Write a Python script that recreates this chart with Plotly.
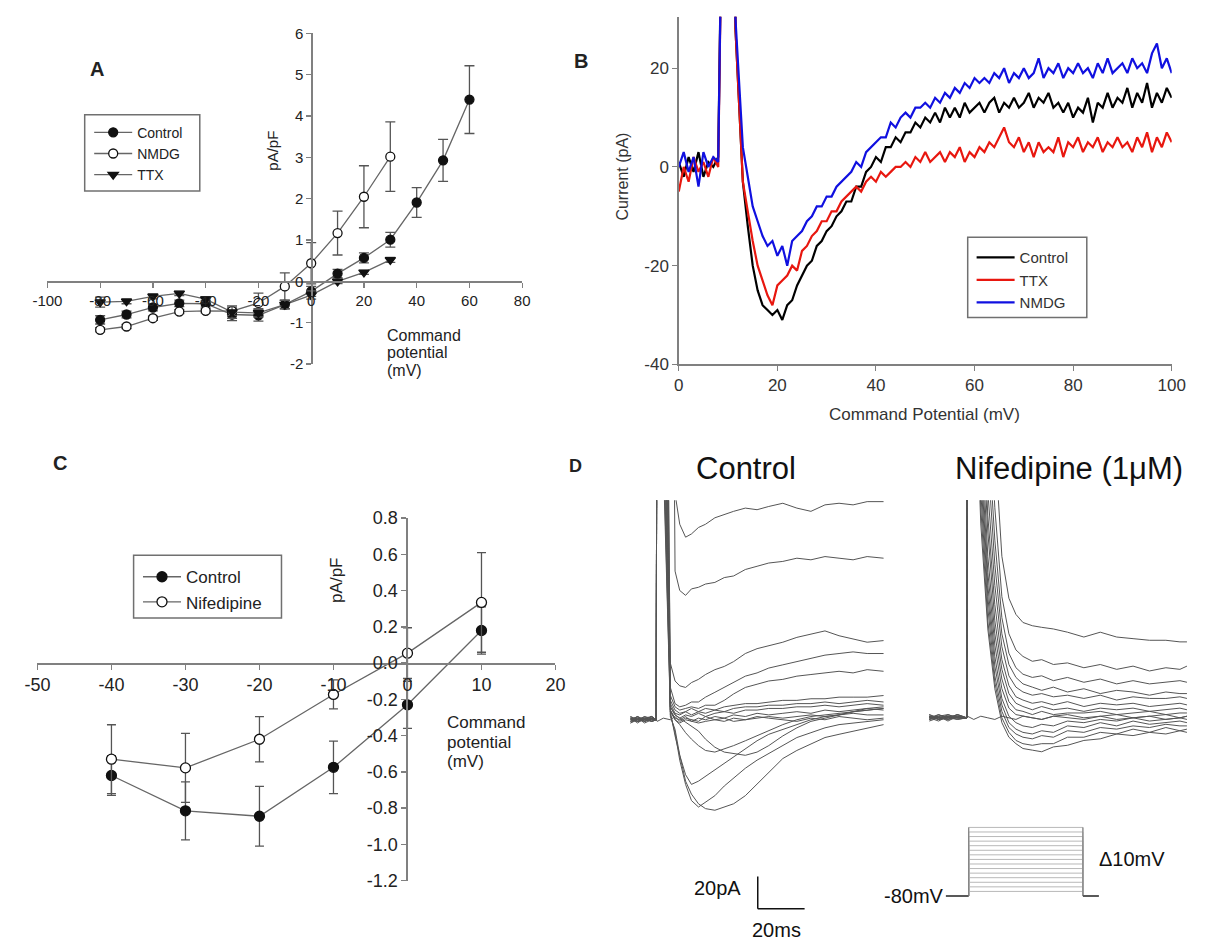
import plotly.graph_objects as go

W, H = 1215, 952
FONT = "Arial, Liberation Sans, sans-serif"


def px(x):
    return x / W


def py(y):
    return 1 - y / H


# ---------------- Panel A : I-V (Control / NMDG / TTX) ----------------
A_V_LONG = [-80, -70, -60, -50, -40, -30, -20, -10, 0, 10, 20, 30, 40, 50, 60]
A_V_SHORT = [-80, -70, -60, -50, -40, -30, -20, -10, 0, 10, 20, 30]
A_CTRL = [-0.93, -0.80, -0.63, -0.53, -0.54, -0.80, -0.82, -0.56, -0.24, 0.19, 0.57, 1.01, 1.91, 2.93, 4.40]
A_CTRL_ERR = [0.10, 0.08, 0.08, 0.08, 0.08, 0.15, 0.14, 0.10, 0.12, 0.10, 0.12, 0.18, 0.36, 0.51, 0.82]
A_NMDG = [-1.17, -1.09, -0.89, -0.73, -0.71, -0.72, -0.52, -0.12, 0.44, 1.17, 2.05, 3.02]
A_NMDG_ERR = [0.05, 0.05, 0.05, 0.05, 0.05, 0.10, 0.24, 0.33, 0.50, 0.53, 0.75, 0.84]
A_TTX = [-0.50, -0.48, -0.36, -0.29, -0.43, -0.74, -0.76, -0.56, -0.33, 0.00, 0.22, 0.52]
A_TTX_ERR = [0.12, 0.06, 0.06, 0.05, 0.06, 0.15, 0.10, 0.10, 0.10, 0.05, 0.05, 0.06]
A_XTICKS = [-100, -80, -60, -40, -20, 0, 20, 40, 60, 80]
A_YTICKS = [-2, -1, 0, 1, 2, 3, 4, 5, 6]

# ---------------- Panel B : current traces ----------------
B_X = [0, 1, 2, 3, 4, 5, 6, 7, 8, 8.2, 10.8, 11.5, 12.3] + list(range(13, 101))
B_CONTROL = [1, -2, 2, -1, 3, -2, 1, 0, 2, 200, 200, 28, 12,
             -3, -12, -20, -25, -28, -29, -30, -29, -31, -28,
             -27, -24, -22, -20, -19, -16, -15, -13, -12, -10,
             -9, -7, -7, -4, -4, -1, 0, 2, 1, 4,
             4, 6, 5, 7, 7, 9, 8, 10, 9, 11,
             9, 12, 10, 12, 10, 13, 11, 12, 13, 11,
             13, 14, 11, 13, 12, 14, 12, 13, 15, 12,
             14, 13, 15, 12, 13, 11, 13, 10, 12, 11,
             14, 9, 13, 12, 15, 12, 14, 13, 16, 12,
             15, 13, 17, 12, 15, 13, 16, 14]
B_TTX = [-5, 0, -3, 2, -1, 1, -2, 2, 0, 200, 200, 28, 10,
         -3, -9, -15, -20, -23, -26, -28, -24, -23, -22,
         -20, -21, -17, -16, -14, -13, -11, -11, -9, -9,
         -7, -6, -5, -4, -5, -3, -2, -3, -1, -2,
         -1, 0, 0, 1, 0, 2, 1, 3, 1, 2,
         3, 1, 3, 2, 4, 1, 3, 2, 4, 3,
         5, 4, 6, 8, 5, 4, 6, 3, 5, 2,
         5, 3, 4, 3, 6, 2, 5, 4, 6, 3,
         5, 4, 6, 3, 5, 4, 6, 4, 5, 3,
         6, 4, 7, 3, 6, 4, 7, 5]
B_NMDG = [0, 3, -1, 2, -4, 3, 0, 2, 1, 200, 200, 30, 16,
          4, -2, -8, -11, -14, -16, -15, -18, -16, -20,
          -15, -14, -13, -11, -10, -8, -8, -6, -6, -4,
          -3, -2, -1, 1, 0, 3, 4, 5, 6, 6,
          9, 8, 10, 11, 10, 12, 12, 13, 12, 14,
          13, 15, 14, 16, 15, 17, 16, 18, 17, 18,
          17, 19, 18, 20, 17, 19, 18, 20, 18, 19,
          22, 18, 20, 19, 21, 18, 20, 19, 21, 19,
          20, 18, 21, 19, 22, 19, 20, 21, 19, 22,
          20, 21, 19, 23, 25, 20, 22, 19]
B_XTICKS = [0, 20, 40, 60, 80, 100]
B_YTICKS = [-40, -20, 0, 20]

# ---------------- Panel C : I-V (Control / Nifedipine) ----------------
C_V = [-40, -30, -20, -10, 0, 10]
C_CTRL = [-0.62, -0.815, -0.845, -0.575, -0.23, 0.18]
C_CTRL_ERR = [0.11, 0.16, 0.165, 0.145, 0.13, 0.13]
C_NIF = [-0.53, -0.578, -0.42, -0.173, 0.055, 0.335]
C_NIF_ERR = [0.19, 0.19, 0.125, 0.08, 0.14, 0.275]
C_XTICKS = [-50, -40, -30, -20, -10, 0, 10, 20]
C_YTICKS = [-1.2, -1.0, -0.8, -0.6, -0.4, -0.2, 0.0, 0.2, 0.4, 0.6, 0.8]

# ---------------- Panel D : raw current families (ms, pA) ----------------
D_CTRL_T = [-11, -8, -5, -2, 0, 0.4, 3.0, 6.0, 8, 10, 12.5, 15, 18, 21, 25, 29, 33, 38,
            43, 48, 54, 60, 66, 72, 78, 84, 90, 97]
D_CTRL_TRACES = [
    [1, -1, 0, 2, 0, -1, 1, 0, 2, -1, 1, 0, -1, 2, 0, 1, -1, 0, 2, 1, 0, -1, 1, 0, 2, 1, 0, 1],
    [0, 2, -1, 1, 0, 500, 500, 500, 140, 121, 113, 115, 119, 121, 125, 127, 129, 131, 130, 132, 134, 131, 129, 133, 134, 133, 135, 135],
    [-1, 1, 0, 2, 0, 500, 500, 500, 92, 80, 77, 81, 82, 84, 85, 88, 89, 93, 95, 97, 98, 100, 99, 101, 100, 99, 101, 100],
    [1, -2, 1, 0, 0, 500, 400, 35, 24, 21, 20, 23, 25, 28, 31, 33, 36, 41, 44, 46, 48, 51, 53, 55, 52, 50, 48, 49],
    [2, 0, -1, 1, 0, 500, 300, 20, 10, 8, 9, 11, 11, 14, 17, 20, 23, 27, 29, 32, 34, 36, 38, 40, 41, 42, 41, 41],
    [-2, 1, 1, -1, 0, 500, 250, 15, 8, 6, 7, 8, 7, 9, 9, 12, 16, 20, 22, 24, 25, 27, 28, 29, 30, 29, 31, 30],
    [0, -1, 2, 1, 0, 500, 220, 12, 6, 4, 5, 7, 5, 7, 6, 8, 9, 10, 10, 11, 12, 12, 13, 13, 14, 14, 14, 15],
    [1, 1, -2, 0, 0, 500, 200, 10, 4, 3, 5, 3, 5, 4, 6, 5, 7, 8, 8, 9, 9, 10, 10, 11, 10, 11, 12, 11],
    [-1, 0, 1, 2, 0, 500, 180, 8, 3, 1, 3, 2, 4, 2, 4, 5, 4, 6, 6, 7, 7, 8, 8, 9, 8, 9, 10, 9],
    [2, -1, 0, -1, 0, 500, 170, 6, 1, 0, 2, -1, 1, 0, 2, 1, 3, 2, 4, 3, 4, 5, 4, 6, 5, 6, 7, 6],
    [0, 2, -1, 0, 0, 500, 160, 5, 0, -2, 0, -1, -2, -1, 0, -1, 1, 0, 1, 2, 1, 2, 3, 2, 3, 4, 3, 3],
    [1, -1, 0, 2, 0, 500, 260, 8, 3, 1, -2, -4, -7, -12, -17, -20, -21, -22, -20, -16, -10, -5, -1, 1, 3, 5, 7, 8],
    [-2, 0, 1, -1, 0, 500, 240, 6, 0, -3, -8, -12, -16, -19, -20, -18, -16, -13, -10, -7, -3, 0, 2, 3, 4, 5, 6, 7],
    [0, 1, -1, 1, 0, 500, 350, 5, -10, -22, -34, -40, -38, -35, -31, -27, -23, -18, -13, -9, -6, -3, 0, 2, 3, 5, 6, 7],
    [1, 0, 2, -1, 0, 500, 450, 3, -8, -25, -40, -50, -54, -51, -47, -41, -36, -30, -25, -21, -16, -11, -8, -5, -3, -2, -1, 0],
    [-1, 2, 0, 1, 0, 500, 600, 2, -6, -22, -38, -46, -52, -55, -56, -54, -52, -47, -40, -33, -24, -19, -15, -11, -9, -7, -5, -3],
]

D_NIF_T = [-16, -12, -8, -4, 0, 0.3, 3, 6, 9, 12, 15, 18, 21, 24, 28, 32, 37, 43, 50, 57,
           64, 71, 78, 85, 91, 94]
D_NIF_TRACES = [
    [1, -1, 2, 0, 0, 1, -1, 1, 0, -1, 1, 0, -1, 1, 0, -1, 1, 0, -1, 1, -1, 0, 1, -1, 0, 1],
    [1, -1, 0, 2, 0, 500, 500, 400, 260, 170, 100, 74, 64, 59, 57, 56, 55, 53, 50, 53, 50, 49, 48, 48, 47, 47],
    [0, 1, -2, 1, 0, 500, 450, 330, 210, 130, 75, 52, 42, 38, 35, 36, 33, 34, 31, 33, 30, 32, 29, 31, 30, 32],
    [-1, 0, 1, 0, 0, 500, 420, 290, 180, 110, 62, 40, 31, 27, 25, 26, 23, 25, 22, 24, 21, 23, 21, 22, 23, 22],
    [2, -1, 0, 1, 0, 500, 400, 260, 160, 95, 52, 33, 25, 21, 19, 17, 19, 16, 18, 15, 17, 16, 14, 16, 15, 15],
    [0, 1, 1, -1, 0, 500, 380, 240, 140, 82, 44, 26, 19, 16, 14, 15, 13, 14, 12, 14, 11, 13, 12, 12, 13, 12],
    [-1, 2, 0, 0, 0, 500, 360, 220, 125, 70, 36, 20, 13, 11, 9, 10, 8, 10, 7, 9, 8, 9, 7, 8, 9, 8],
    [1, 0, -1, 2, 0, 500, 340, 200, 115, 60, 30, 15, 9, 7, 5, 7, 5, 6, 4, 6, 5, 6, 4, 5, 6, 5],
    [0, -2, 1, 0, 0, 500, 320, 185, 100, 52, 24, 10, 5, 4, 2, 4, 2, 3, 3, 4, 2, 3, 4, 2, 3, 3],
    [2, 0, 0, -1, 0, 500, 300, 170, 90, 45, 18, 6, 2, 1, 0, -1, 1, 2, 0, 1, 2, 0, 1, 2, 0, 1],
    [-1, 1, 2, 0, 0, 500, 290, 160, 82, 38, 12, 1, -3, -5, -6, -4, -5, -2, -3, -1, -2, 0, -2, -1, 0, -1],
    [0, 0, -1, 1, 0, 500, 280, 150, 75, 32, 8, -3, -7, -9, -10, -8, -9, -5, -6, -3, -5, -2, -4, -3, -2, -3],
    [1, -1, 0, 2, 0, 500, 260, 140, 68, 26, 4, -6, -10, -12, -13, -11, -12, -8, -9, -6, -7, -5, -6, -4, -5, -5],
    [0, 2, -1, 0, 0, 500, 250, 130, 60, 22, 0, -9, -14, -16, -17, -16, -16, -12, -12, -9, -10, -7, -9, -6, -8, -7],
    [-2, 0, 1, 1, 0, 500, 240, 120, 55, 18, -3, -12, -16, -19, -20, -21, -18, -17, -14, -13, -10, -11, -9, -10, -8, -9],
]

# voltage protocol (mV, ms)
PROTO_HOLD = -80
PROTO_LEVELS = [-70, -60, -50, -40, -30, -20, -10, 0, 10, 20, 30, 40, 50, 60, 70]
PROTO_PRE, PROTO_ON, PROTO_OFF, PROTO_END = -10, 0, 50, 57
SCALE_I_PA = 20
SCALE_T_MS = 20
SCALE_ORIGIN = (43.3, -117)  # (ms, pA) corner of the scale bar in the control axes

fig = go.Figure()

LINE_GREY = "#666666"
ERR_GREY = "#555555"


def iv(x, y, err, name, symbol, fill, xa, ya, legend, size, cap):
    return go.Scatter(
        x=x, y=y, mode="lines+markers", name=name,
        line=dict(color=LINE_GREY, width=1.3),
        marker=dict(symbol=symbol, size=size, color=fill, line=dict(color="#111111", width=1.3)),
        error_y=dict(type="data", array=err, visible=True, color=ERR_GREY, thickness=1.3, width=cap),
        xaxis=xa, yaxis=ya, legend=legend,
    )


# Panel A
fig.add_trace(iv(A_V_LONG, A_CTRL, A_CTRL_ERR, "Control", "circle", "#111111", "x", "y", "legend", 9, 5))
fig.add_trace(iv(A_V_SHORT, A_NMDG, A_NMDG_ERR, "NMDG", "circle", "white", "x", "y", "legend", 9, 5))
fig.add_trace(iv(A_V_SHORT, A_TTX, A_TTX_ERR, "TTX", "triangle-down", "#111111", "x", "y", "legend", 9, 5))

# Panel B
for name, vals, col in [("Control", B_CONTROL, "#000000"), ("TTX", B_TTX, "#e8170f"), ("NMDG", B_NMDG, "#1010e0")]:
    fig.add_trace(go.Scatter(x=B_X, y=vals, mode="lines", name=name,
                             line=dict(color=col, width=2.2), xaxis="x2", yaxis="y2", legend="legend2"))

# Panel C
fig.add_trace(iv(C_V, C_CTRL, C_CTRL_ERR, "Control", "circle", "#111111", "x3", "y3", "legend3", 10, 4.5))
fig.add_trace(iv(C_V, C_NIF, C_NIF_ERR, "Nifedipine", "circle", "white", "x3", "y3", "legend3", 10, 4.5))

# Panel D traces
for tr in D_CTRL_TRACES:
    fig.add_trace(go.Scatter(x=D_CTRL_T, y=tr, mode="lines", line=dict(color="#555555", width=1),
                             xaxis="x4", yaxis="y4", showlegend=False, hoverinfo="skip"))
for tr in D_NIF_TRACES:
    fig.add_trace(go.Scatter(x=D_NIF_T, y=tr, mode="lines", line=dict(color="#555555", width=1),
                             xaxis="x5", yaxis="y5", showlegend=False, hoverinfo="skip"))

# protocol
for v in PROTO_LEVELS:
    fig.add_trace(go.Scatter(x=[PROTO_ON, PROTO_ON, PROTO_OFF, PROTO_OFF], y=[PROTO_HOLD, v, v, PROTO_HOLD],
                             mode="lines", line=dict(color="#b8b8b8", width=1),
                             xaxis="x6", yaxis="y6", showlegend=False, hoverinfo="skip"))
for seg in ([PROTO_PRE, PROTO_ON], [PROTO_OFF, PROTO_END]):
    fig.add_trace(go.Scatter(x=seg, y=[PROTO_HOLD, PROTO_HOLD], mode="lines",
                             line=dict(color="#222222", width=1.5),
                             xaxis="x6", yaxis="y6", showlegend=False, hoverinfo="skip"))
for t in (PROTO_ON, PROTO_OFF):
    fig.add_trace(go.Scatter(x=[t, t], y=[PROTO_HOLD, PROTO_LEVELS[-1]], mode="lines",
                             line=dict(color="#777777", width=1),
                             xaxis="x6", yaxis="y6", showlegend=False, hoverinfo="skip"))

AX_COL = "#808080"


def free_axis(domain, rng, pos, tickvals, ticktext, size, **kw):
    d = dict(domain=domain, range=rng, anchor="free", position=pos, showline=True, linecolor=AX_COL,
             linewidth=1.5, ticks="outside", ticklen=5, tickwidth=1.3, tickcolor=AX_COL,
             tickvals=tickvals, ticktext=ticktext, tickfont=dict(size=size, color="#222222"),
             showgrid=False, zeroline=False, fixedrange=True)
    d.update(kw)
    return d


hidden = dict(visible=False, showgrid=False, zeroline=False, fixedrange=True)

fig.update_layout(
    width=W, height=H, margin=dict(l=0, r=0, t=0, b=0),
    paper_bgcolor="white", plot_bgcolor="rgba(0,0,0,0)",
    font=dict(family=FONT, color="#222222"),
    # Panel A
    xaxis=free_axis([px(33.2), px(519.6)], [-100, 80], py(277.3), A_XTICKS, [str(v) for v in A_XTICKS], 15),
    yaxis=free_axis([py(361.7), py(24)], [-2, 6], px(303.6), A_YTICKS, [str(v) for v in A_YTICKS], 15),
    # Panel B
    xaxis2=dict(domain=[px(680), px(1185)], range=[0, 100], anchor="y2", showline=True, linecolor=AX_COL,
                linewidth=1.5, ticks="outside", ticklen=5, tickcolor=AX_COL, tickvals=B_XTICKS,
                ticktext=[str(v) for v in B_XTICKS], tickfont=dict(size=17, color="#333333"),
                showgrid=False, zeroline=False, fixedrange=True),
    yaxis2=dict(domain=[py(362), py(7)], range=[-40, 30.4], anchor="x2", showline=True, linecolor=AX_COL,
                linewidth=1.5, ticks="outside", ticklen=5, tickcolor=AX_COL, tickvals=B_YTICKS,
                ticktext=[str(v) for v in B_YTICKS], tickfont=dict(size=17, color="#333333"),
                showgrid=False, zeroline=False, fixedrange=True),
    # Panel C
    xaxis3=free_axis([px(23), px(553.7)], [-50, 20], py(667.1), C_XTICKS, [str(v) for v in C_XTICKS], 18),
    yaxis3=free_axis([py(889.3), py(519)], [-1.2, 0.8], px(401), C_YTICKS, [f"{v:.1f}" for v in C_YTICKS], 18),
    # Panel D
    xaxis4=dict(domain=[px(625), px(895)], range=[-13.33, 99.17], anchor="y4", **hidden),
    yaxis4=dict(domain=[py(945), py(500.7)], range=[-133.3, 135.9], anchor="x4", **hidden),
    xaxis5=dict(domain=[px(930), px(1205)], range=[-18.75, 95.83], anchor="y5", **hidden),
    yaxis5=dict(domain=[py(945), py(500.7)], range=[-134.5, 134.7], anchor="x5", **hidden),
    xaxis6=dict(domain=[px(945), px(1120)], range=[-13.7, 61.1], anchor="y6", **hidden),
    yaxis6=dict(domain=[py(915), py(825)], range=[-101.4, 91.3], anchor="x6", **hidden),
    legend=dict(x=px(76), y=py(109), xanchor="left", yanchor="top", bgcolor="rgba(0,0,0,0)",
                borderwidth=0, font=dict(size=14, color="#222222"), itemwidth=38, tracegroupgap=0),
    legend2=dict(x=px(980), y=py(236), xanchor="left", yanchor="top", bgcolor="rgba(0,0,0,0)",
                 borderwidth=0, font=dict(size=15, color="#333333"), itemwidth=38, tracegroupgap=0),
    legend3=dict(x=px(126), y=py(561), xanchor="left", yanchor="top", bgcolor="rgba(0,0,0,0)",
                 borderwidth=0, font=dict(size=17, color="#222222"), itemwidth=38, tracegroupgap=0),
    showlegend=True,
)

# legend frames
for (x0, y0, x1, y1) in [(71.4, 107, 189.3, 185), (976, 232, 1098, 314), (121.5, 557, 273, 621)]:
    fig.add_shape(type="rect", xref="paper", yref="paper", x0=px(x0), x1=px(x1), y0=py(y0), y1=py(y1),
                  line=dict(color="#707070", width=1.5), fillcolor="rgba(0,0,0,0)")

# scale bars (control axes units)
sx, sy = SCALE_ORIGIN
fig.add_shape(type="line", xref="x4", yref="y4", x0=sx, x1=sx, y0=sy, y1=sy + SCALE_I_PA,
              line=dict(color="#111111", width=1.5))
fig.add_shape(type="line", xref="x4", yref="y4", x0=sx, x1=sx + SCALE_T_MS, y0=sy, y1=sy,
              line=dict(color="#111111", width=1.5))


def note(text, x, y, size, xanchor="center", bold=False, angle=0, color="#222222"):
    fig.add_annotation(text=f"<b>{text}</b>" if bold else text, x=px(x), y=py(y), xref="paper", yref="paper",
                       showarrow=False, xanchor=xanchor, yanchor="middle", textangle=angle,
                       font=dict(size=size, color=color, family=FONT))


# panel letters
note("A", 84, 60, 20, bold=True)
note("B", 580, 52, 20, bold=True)
note("C", 46, 463, 20, bold=True)
note("D", 574, 466, 18, bold=True)

# Panel A texts
note("pA/pF", 264, 144, 15, angle=-90)
for txt, yy in (("Command", 332), ("potential", 350), ("(mV)", 368)):
    note(txt, 378.6, yy, 16, xanchor="left")

# Panel B texts
note("Current (pA)", 622, 170, 16, angle=-90, color="#333333")
note("Command Potential (mV)", 932, 413, 17, color="#333333")

# Panel C texts
note("pA/pF", 330, 583, 17, angle=-90)
for txt, yy in (("Command", 728), ("potential", 748), ("(mV)", 768)):
    note(txt, 440.7, yy, 17, xanchor="left")

# Panel D texts
note("Control", 749, 468, 31, color="#111111")
note("Nifedipine (1\u03bcM)", 1080, 468, 31, color="#111111")
note("20pA", 746, 897, 20, xanchor="right", color="#111111")
note("20ms", 780, 940, 20, color="#111111")
note("-80mV", 954, 905, 20, xanchor="right", color="#111111")
note("\u039410mV", 1108, 867, 20, xanchor="left", color="#111111")

fig.write_html("out.html", config={"displayModeBar": False, "staticPlot": True},
               post_script="document.body.style.margin='0';document.body.style.overflow='hidden';")
